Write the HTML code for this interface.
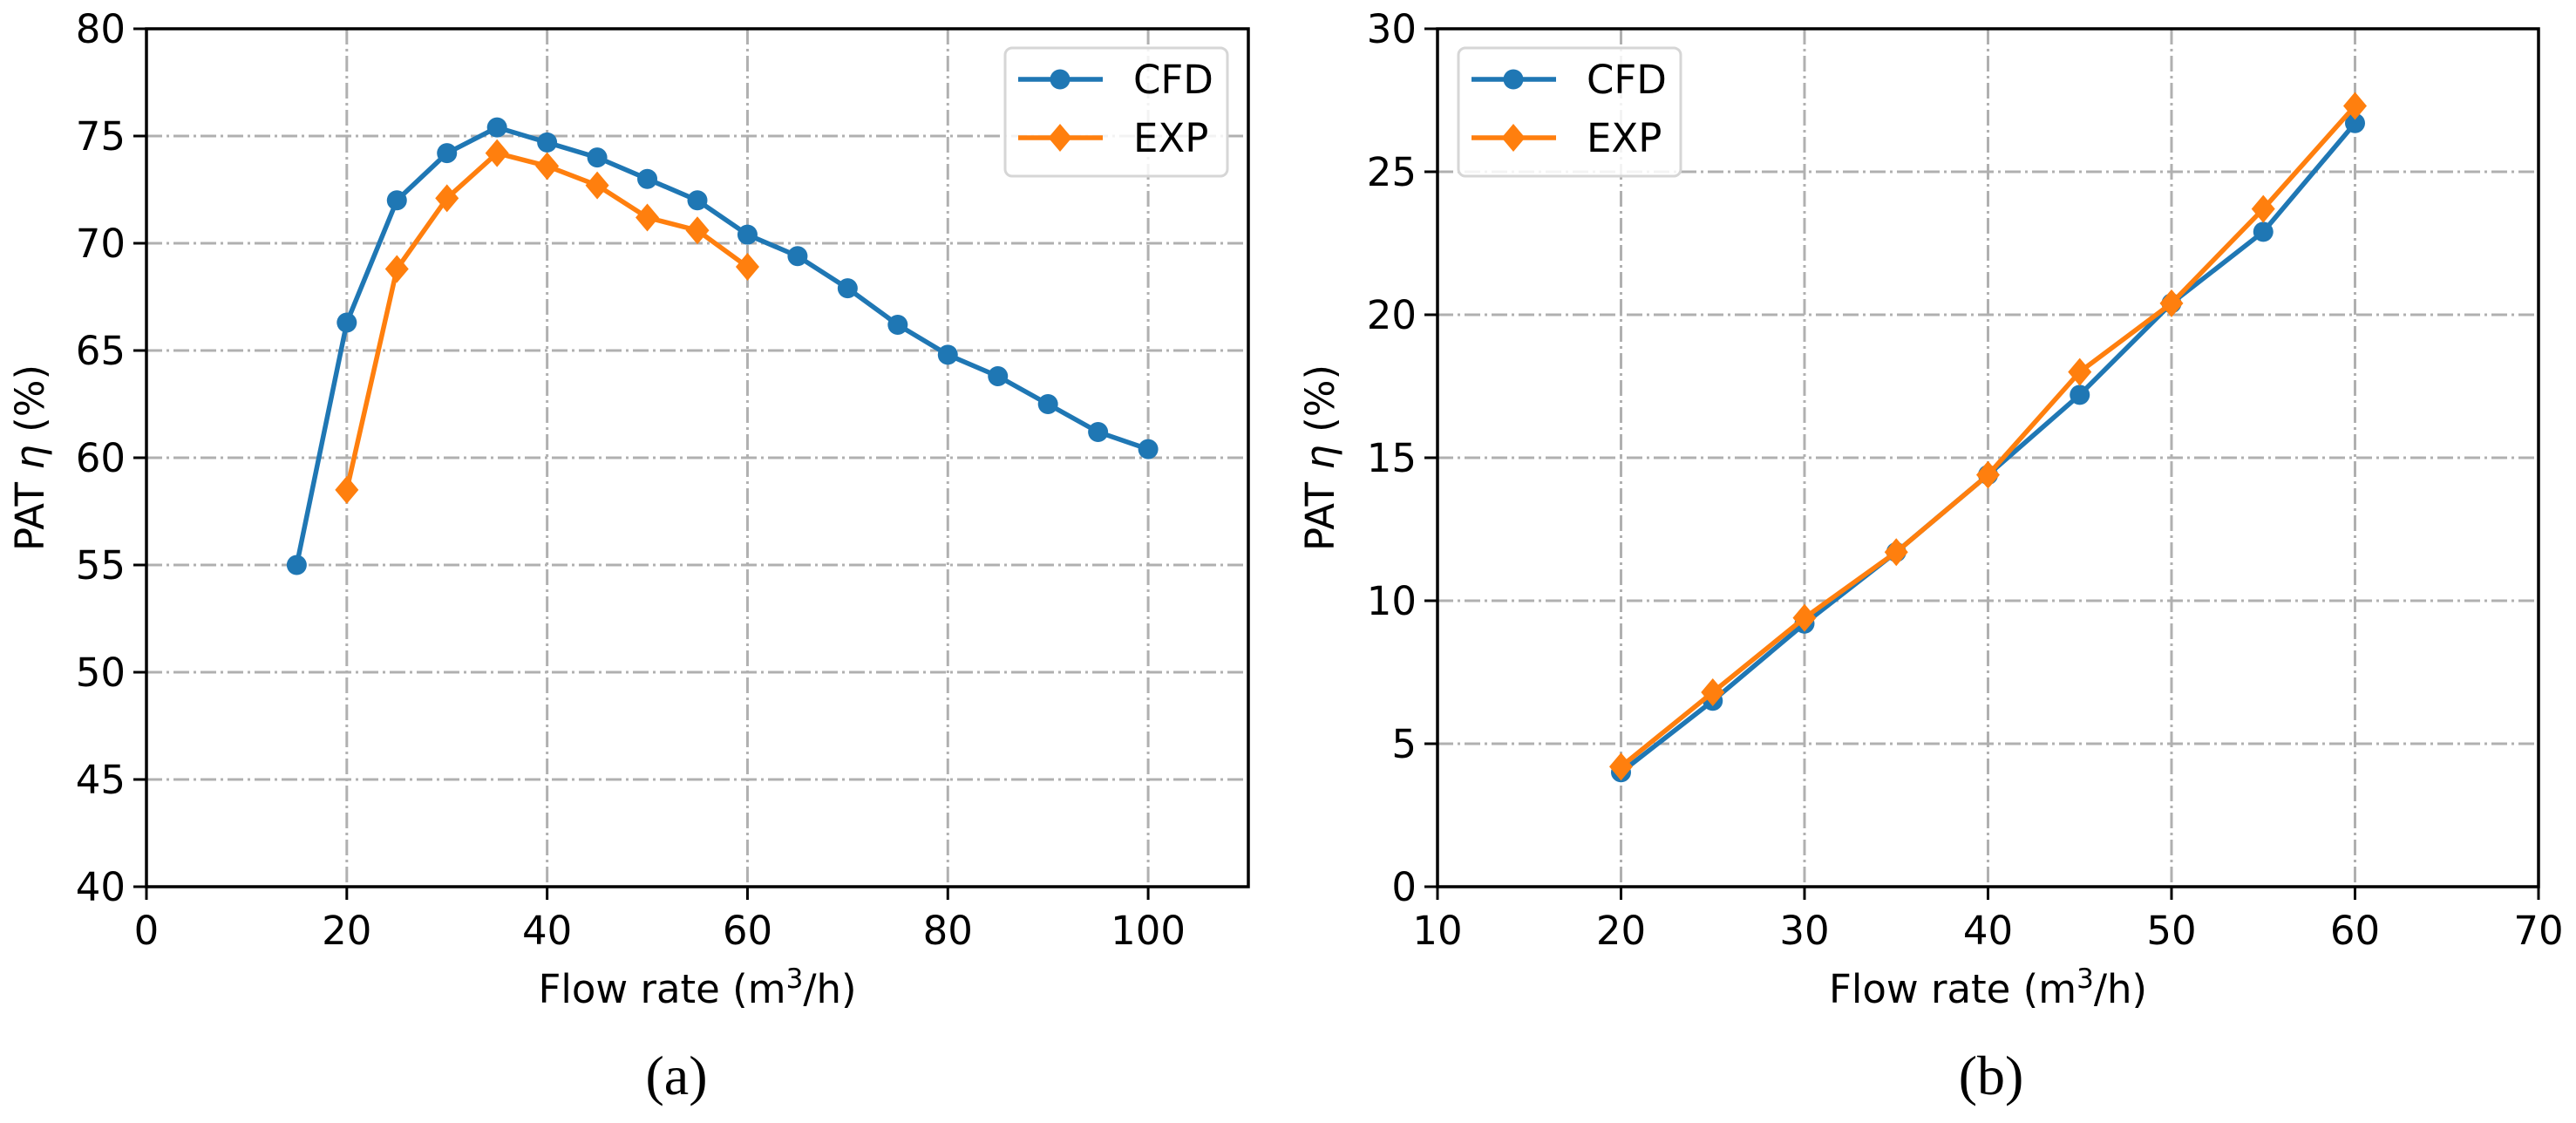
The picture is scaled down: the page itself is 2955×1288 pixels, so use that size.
<!DOCTYPE html>
<html><head><meta charset="utf-8"><style>
html,body{margin:0;padding:0;background:#fff;}
svg{display:block;}
text{font-family:"DejaVu Sans","Liberation Sans",sans-serif;fill:#000;}
</style></head><body>
<svg id="fig" width="2955" height="1288" viewBox="0 0 2955 1288" xmlns="http://www.w3.org/2000/svg"></svg>
<script>
// Panel (a) data
const aX = [15,20,25,30,35,40,45,50,55,60,65,70,75,80,85,90,95,100];
const aCFD = [55.0,66.3,72.0,74.2,75.4,74.7,74.0,73.0,72.0,70.4,69.4,67.9,66.2,64.8,63.8,62.5,61.2,60.4];
const aExpX = [20,25,30,35,40,45,50,55,60];
const aEXP = [58.5,68.8,72.1,74.2,73.6,72.7,71.2,70.6,68.9];
const aXTicks = [0,20,40,60,80,100];
const aYTicks = [40,45,50,55,60,65,70,75,80];
// Panel (b) data
const bX = [20,25,30,35,40,45,50,55,60];
const bCFD = [4.0,6.5,9.2,11.7,14.4,17.2,20.4,22.9,26.7];
const bEXP = [4.2,6.8,9.4,11.7,14.4,18.0,20.4,23.7,27.3];
const bXTicks = [10,20,30,40,50,60,70];
const bYTicks = [0,5,10,15,20,25,30];

const NS = "http://www.w3.org/2000/svg";
const svg = document.getElementById('fig');
function mk(tag, attrs, parent){
  const e = document.createElementNS(NS, tag);
  for (const k in attrs) e.setAttribute(k, attrs[k]);
  (parent||svg).appendChild(e);
  return e;
}
const BLUE = '#1f77b4', ORANGE = '#ff7f0e';
const FS = 45;

function panel(opt){
  const g = mk('g', {});
  
  
  const L=opt.L,R=opt.R,T=33,B=1017;
  const sx = v => L + (v-opt.xmin)/(opt.xmax-opt.xmin)*(R-L);
  const sy = v => B - (v-opt.ymin)/(opt.ymax-opt.ymin)*(B-T);
  opt.xTicks.forEach(t=>{
    if (t===opt.xmin||t===opt.xmax) return;
    const l = mk('line',{x1:sx(t),x2:sx(t),y1:T,y2:B,stroke:'#b0b0b0','stroke-width':3,'stroke-dasharray':'18,5,3,5'},g);
    
    
  });
  opt.yTicks.forEach(t=>{
    if (t===opt.ymin||t===opt.ymax) return;
    const l = mk('line',{x1:L,x2:R,y1:sy(t),y2:sy(t),stroke:'#b0b0b0','stroke-width':3,'stroke-dasharray':'18,5,3,5'},g);
    
    
  });
  opt.xTicks.forEach(t=>{
    mk('line',{x1:sx(t),x2:sx(t),y1:B,y2:B+15,stroke:'#000','stroke-width':3},g);
    const tx = mk('text',{x:sx(t),y:B+66,'font-size':FS,'text-anchor':'middle'},g);
    tx.textContent = t;
    
    
  });
  opt.yTicks.forEach(t=>{
    mk('line',{x1:L-15,x2:L,y1:sy(t),y2:sy(t),stroke:'#000','stroke-width':3},g);
    const tx = mk('text',{x:L-24,y:sy(t)+16,'font-size':FS,'text-anchor':'end'},g);
    tx.textContent = t;
    
    
  });
  function series(xs, ys, color, marker, nm){
    const pts = xs.map((x,i)=>sx(x)+','+sy(ys[i])).join(' ');
    const pl = mk('polyline',{points:pts,fill:'none',stroke:color,'stroke-width':5.5,'stroke-linejoin':'round'},g);
    
    
    xs.forEach((x,i)=>{
      let m;
      if (marker==='o') m = mk('circle',{cx:sx(x),cy:sy(ys[i]),r:11.5,fill:color},g);
      else { const cx=sx(x), cy=sy(ys[i]);
        m = mk('polygon',{points:`${cx},${cy-16} ${cx+13.5},${cy} ${cx},${cy+16} ${cx-13.5},${cy}`,fill:color},g); }
      
      
    });
  }
  series(opt.x1, opt.y1, BLUE, 'o', 'cfd');
  series(opt.x2, opt.y2, ORANGE, 'd', 'exp');
  const fr = mk('rect',{x:L,y:T,width:R-L,height:B-T,fill:'none',stroke:'#000','stroke-width':3.5},g);
  
  
  const lg = mk('g',{},g);
  
  
  const lx = opt.legX;
  mk('rect',{x:lx,y:55,width:255,height:147,rx:8,fill:'#fff','fill-opacity':0.85,stroke:'#d6d6d6','stroke-width':3},lg);
  mk('line',{x1:lx+15,x2:lx+112,y1:91,y2:91,stroke:BLUE,'stroke-width':5.5},lg);
  mk('circle',{cx:lx+63,cy:91,r:11.5,fill:BLUE},lg);
  const t1 = mk('text',{x:lx+147,y:107,'font-size':FS},lg); t1.textContent='CFD';
  
  
  mk('line',{x1:lx+15,x2:lx+112,y1:158,y2:158,stroke:ORANGE,'stroke-width':5.5},lg);
  mk('polygon',{points:`${lx+63},${142} ${lx+76.5},${158} ${lx+63},${174} ${lx+49.5},${158}`,fill:ORANGE},lg);
  const t2 = mk('text',{x:lx+147,y:174,'font-size':FS},lg); t2.textContent='EXP';
  
  
  const xt = mk('text',{x:(L+R)/2,y:1150,'font-size':FS,'text-anchor':'middle'},g);
  xt.innerHTML = 'Flow rate (m<tspan dy="-17" font-size="31">3</tspan><tspan dy="17">/h)</tspan>';
  
  
  const yt = mk('text',{x:0,y:0,'font-size':FS,'text-anchor':'middle',transform:`translate(${opt.yLabX},525) rotate(-90)`},g);
  yt.innerHTML = 'PAT <tspan font-style="italic">η</tspan> (%)';
  
  
  const cap = mk('text',{x:opt.capX,y:1255,'font-size':64,'text-anchor':'middle',style:'font-family:"Liberation Serif",serif'},g);
  cap.textContent = opt.caption;
  
  
}
panel({name:'panel-a',L:168,R:1432,xmin:0,xmax:110,ymin:40,ymax:80,xTicks:aXTicks,yTicks:aYTicks,
  x1:aX,y1:aCFD,x2:aExpX,y2:aEXP,legX:1153,yLabX:50,caption:'(a)',capX:776});
panel({name:'panel-b',L:1649,R:2912,xmin:10,xmax:70,ymin:0,ymax:30,xTicks:bXTicks,yTicks:bYTicks,
  x1:bX,y1:bCFD,x2:bX,y2:bEXP,legX:1673,yLabX:1530,caption:'(b)',capX:2284});
</script>
</body></html>
